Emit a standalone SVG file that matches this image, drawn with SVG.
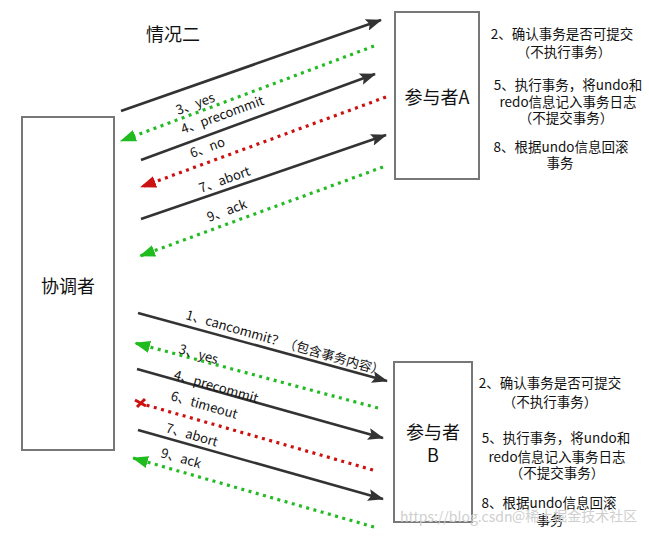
<svg xmlns="http://www.w3.org/2000/svg" width="649" height="539" viewBox="0 0 649 539">
<defs>
<style>
.box{fill:#fff;stroke:#777;stroke-width:2}
.t{font-family:"Noto Sans CJK SC","Noto Sans",sans-serif;fill:#111}
.big{font-size:18px}
.side{font-size:13.5px;text-anchor:middle}
.lbl{font-size:13px}
.solid{stroke:#333;stroke-width:2.6;fill:none}
.gdot{stroke:#22bb22;stroke-width:3.2;stroke-dasharray:3 4.5;fill:none}
.rdot{stroke:#cc1111;stroke-width:3.2;stroke-dasharray:3 4.5;fill:none}
.wm{font-family:"Noto Sans CJK SC","Liberation Sans",sans-serif;font-size:14px;fill:#cfcfcf}
</style>
<marker id="ab" markerUnits="userSpaceOnUse" markerWidth="16" markerHeight="12" refX="15" refY="6" orient="auto"><path d="M0,0 L16,6 L0,12 L3,6 z" fill="#333"/></marker>
<marker id="ag" markerUnits="userSpaceOnUse" markerWidth="16" markerHeight="12" refX="15" refY="6" orient="auto"><path d="M0,0 L16,6 L0,12 z" fill="#1fbb1f"/></marker>
<marker id="ar" markerUnits="userSpaceOnUse" markerWidth="16" markerHeight="12" refX="15" refY="6" orient="auto"><path d="M0,0 L16,6 L0,12 z" fill="#cc1111"/></marker>
</defs>
<rect width="649" height="539" fill="#fff"/>

<text class="t big" x="146" y="41">情况二</text>

<g id="coordinator">
<rect class="box" x="22" y="117" width="92" height="333"/>
<text class="t big" x="68" y="293" text-anchor="middle">协调者</text>
</g>

<g id="participantA">
<rect class="box" x="395" y="12" width="84" height="167"/>
<text class="t big" x="437" y="104" text-anchor="middle">参与者A</text>
</g>

<g id="participantB">
<rect class="box" x="394" y="362" width="78" height="160"/>
<text class="t big" x="433" y="439" text-anchor="middle">参与者</text>
<text class="t big" x="433" y="462" text-anchor="middle">B</text>
</g>

<g id="notesA">
<text class="t side" x="562" y="39">2、确认事务是否可提交</text>
<text class="t side" x="564" y="57">（不执行事务）</text>
<text class="t side" x="568" y="90">5、执行事务，将undo和</text>
<text class="t side" x="568" y="107">redo信息记入事务日志</text>
<text class="t side" x="566" y="123">（不提交事务）</text>
<text class="t side" x="561" y="152">8、根据undo信息回滚</text>
<text class="t side" x="560" y="168">事务</text>
</g>

<g id="notesB">
<text class="t side" x="550" y="388">2、确认事务是否可提交</text>
<text class="t side" x="550" y="407">（不执行事务）</text>
<text class="t side" x="556" y="443">5、执行事务，将undo和</text>
<text class="t side" x="557" y="462">redo信息记入事务日志</text>
<text class="t side" x="557" y="478">（不提交事务）</text>
<text class="t side" x="549" y="508">8、根据undo信息回滚</text>
<text class="t side" x="550" y="525">事务</text>
</g>

<g id="connectors">
<line class="solid" x1="121" y1="111" x2="381" y2="20" marker-end="url(#ab)"/>
<line class="gdot" x1="374" y1="46" x2="121" y2="141" marker-end="url(#ag)"/>
<line class="solid" x1="141" y1="160" x2="375" y2="74" marker-end="url(#ab)"/>
<line class="rdot" x1="386" y1="97" x2="141" y2="187" marker-end="url(#ar)"/>
<line class="solid" x1="141" y1="219" x2="386" y2="135" marker-end="url(#ab)"/>
<line class="gdot" x1="383" y1="167" x2="140" y2="256" marker-end="url(#ag)"/>

<line class="solid" x1="138" y1="313" x2="387" y2="381" marker-end="url(#ab)"/>
<line class="gdot" x1="378" y1="408" x2="135" y2="343" marker-end="url(#ag)"/>
<line class="solid" x1="137" y1="369" x2="383" y2="438" marker-end="url(#ab)"/>
<line class="rdot" x1="373" y1="470" x2="146" y2="405"/>
<path d="M135,400 L146,406 M137,407 L145,399" stroke="#cc1111" stroke-width="3" fill="none"/>
<line class="solid" x1="138" y1="430" x2="383" y2="499" marker-end="url(#ab)"/>
<line class="gdot" x1="374" y1="527" x2="133" y2="458" marker-end="url(#ag)"/>

<g class="t lbl">
<text transform="translate(178,115) rotate(-20)">3、yes</text>
<text transform="translate(183,134) rotate(-20)">4、precommit</text>
<text transform="translate(192,158) rotate(-20)">6、no</text>
<text transform="translate(201,193) rotate(-20)">7、abort</text>
<text transform="translate(209,222) rotate(-20)">9、ack</text>

<text transform="translate(185,319) rotate(16)">1、cancommit？（包含事务内容）</text>
<text transform="translate(178,353) rotate(16)">3、yes</text>
<text transform="translate(173,379) rotate(16)">4、precommit</text>
<text transform="translate(170,400) rotate(16)">6、timeout</text>
<text transform="translate(165,432) rotate(16)">7、abort</text>
<text transform="translate(160,457) rotate(16)">9、ack</text>
</g>
</g>

<text class="wm" x="400" y="522">https://blog.csdn</text>
<text class="wm" x="512" y="521">@稀土掘金技术社区</text>
</svg>
